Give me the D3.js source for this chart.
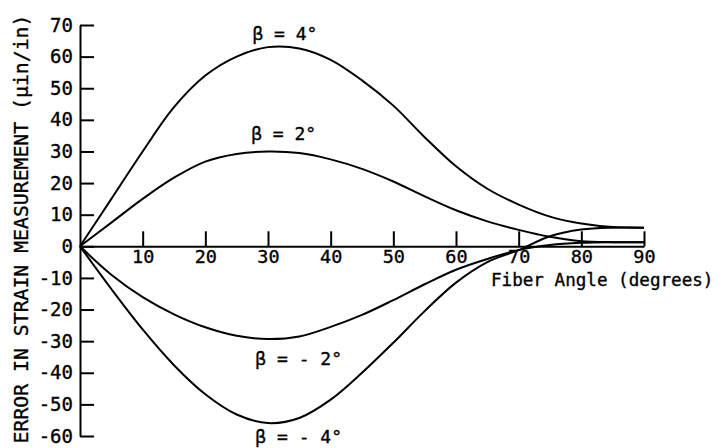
<!DOCTYPE html>
<html>
<head>
<meta charset="utf-8">
<script src="https://cdn.jsdelivr.net/npm/d3@7"></script>
<style>
  html, body { margin: 0; padding: 0; background: #fff; }
  svg { display: block; }
  text { font-family: "DejaVu Sans Mono", monospace; fill: #000; stroke: #000; stroke-width: 0.35px; }
</style>
</head>
<body>
<svg id="chart" width="723" height="448"></svg>
<script>
// Fiber angle (degrees) at which each error curve is sampled
const angles = [0, 5, 10, 15, 20, 25, 30, 35, 40, 45, 50, 55, 60, 65, 70, 75, 80, 85, 90];

// Strain measurement error (micro-in/in) for each gage misalignment angle beta
const errBetaPlus4  = [0, 15, 30, 44, 54, 60, 63, 62.6, 59, 52.5, 44.5, 34.5, 25.3, 18.2, 13.2, 9.4, 7.2, 6.1, 5.9];
const errBetaPlus2  = [0, 7.5, 15, 21.7, 26.8, 29.2, 30, 29.5, 27.5, 24.5, 20.5, 15.8, 11.4, 7.9, 5.2, 3.0, 1.6, 1.3, 1.3];
const errBetaMinus2 = [0, -9, -16.1, -21.5, -25.6, -28.3, -29.3, -28.5, -25.5, -21.7, -17, -12, -7.4, -4, -1.2, 0.4, 1.1, 1.3, 1.3];
const errBetaMinus4 = [0, -13.5, -26.3, -37.6, -46.8, -53.2, -55.9, -54.3, -48.5, -40, -30.5, -20.5, -11.5, -5, -1.2, 3.2, 5.3, 5.9, 5.9];

// Curve captions and where they sit, in data units (angle, error)
const curveLabels = ["β = 4°", "β = 2°", "β = - 2°", "β = - 4°"];
const labelAngles = [32.7, 32.5, 34.9, 34.9];
const labelErrors = [65.2, 33.6, -37.5, -62.2];

// Axis ticks and titles
const xTicks = [10, 20, 30, 40, 50, 60, 70, 80, 90];
const yTicks = [-60, -50, -40, -30, -20, -10, 0, 10, 20, 30, 40, 50, 60, 70];
const xTitle = "Fiber Angle (degrees)";
const yTitle = "ERROR IN STRAIN MEASUREMENT (μin/in)";

const svg = d3.select("#chart");

const x = d3.scaleLinear().domain([0, 90]).range([80, 644]);
const y = d3.scaleLinear().domain([-60, 70]).range([436, 25]);

// Y axis: ticks point into the plot, labels on the left
const yAxis = svg.append("g")
  .attr("transform", `translate(${x(0)},0)`)
  .call(d3.axisLeft(y)
    .tickValues(yTicks)
    .tickFormat(d => String(d))
    .tickSizeInner(-14)
    .tickSizeOuter(0)
    .tickPadding(7));
yAxis.select(".domain").attr("stroke", "#000").attr("stroke-width", 2);
yAxis.selectAll(".tick line").attr("stroke", "#000").attr("stroke-width", 2);
yAxis.selectAll(".tick text")
  .style("font-family", "'DejaVu Sans Mono', monospace")
  .style("font-size", "19px")
  .attr("fill", "#000");

// X axis along zero error: ticks point up, labels below
const xAxis = svg.append("g")
  .attr("transform", `translate(0,${y(0)})`)
  .call(d3.axisBottom(x)
    .tickValues(xTicks)
    .tickFormat(d => String(d))
    .tickSizeInner(-15)
    .tickSizeOuter(0)
    .tickPadding(4));
xAxis.select(".domain").attr("stroke", "#000").attr("stroke-width", 2);
xAxis.selectAll(".tick line").attr("stroke", "#000").attr("stroke-width", 2);
xAxis.selectAll(".tick text")
  .style("font-family", "'DejaVu Sans Mono', monospace")
  .style("font-size", "18.5px")
  .attr("fill", "#000");

// Error curves
const series = [errBetaPlus4, errBetaPlus2, errBetaMinus2, errBetaMinus4];
const line = d3.line()
  .x((d, i) => x(angles[i]))
  .y(d => y(d))
  .curve(d3.curveCatmullRom.alpha(0.5));

svg.append("g")
  .selectAll("path")
  .data(series)
  .join("path")
  .attr("d", line)
  .attr("fill", "none")
  .attr("stroke", "#000")
  .attr("stroke-width", 2);

// Curve captions
svg.append("g")
  .selectAll("text")
  .data(curveLabels)
  .join("text")
  .attr("x", (d, i) => x(labelAngles[i]))
  .attr("y", (d, i) => y(labelErrors[i]))
  .attr("text-anchor", "middle")
  .style("font-size", "18px")
  .text(d => d);

// Axis titles
svg.append("text")
  .attr("x", 491)
  .attr("y", 286)
  .style("font-size", "17.6px")
  .text(xTitle);

svg.append("text")
  .attr("transform", "translate(28,229) rotate(-90)")
  .attr("text-anchor", "middle")
  .style("font-size", "19.8px")
  .text(yTitle);
</script>
</body>
</html>
